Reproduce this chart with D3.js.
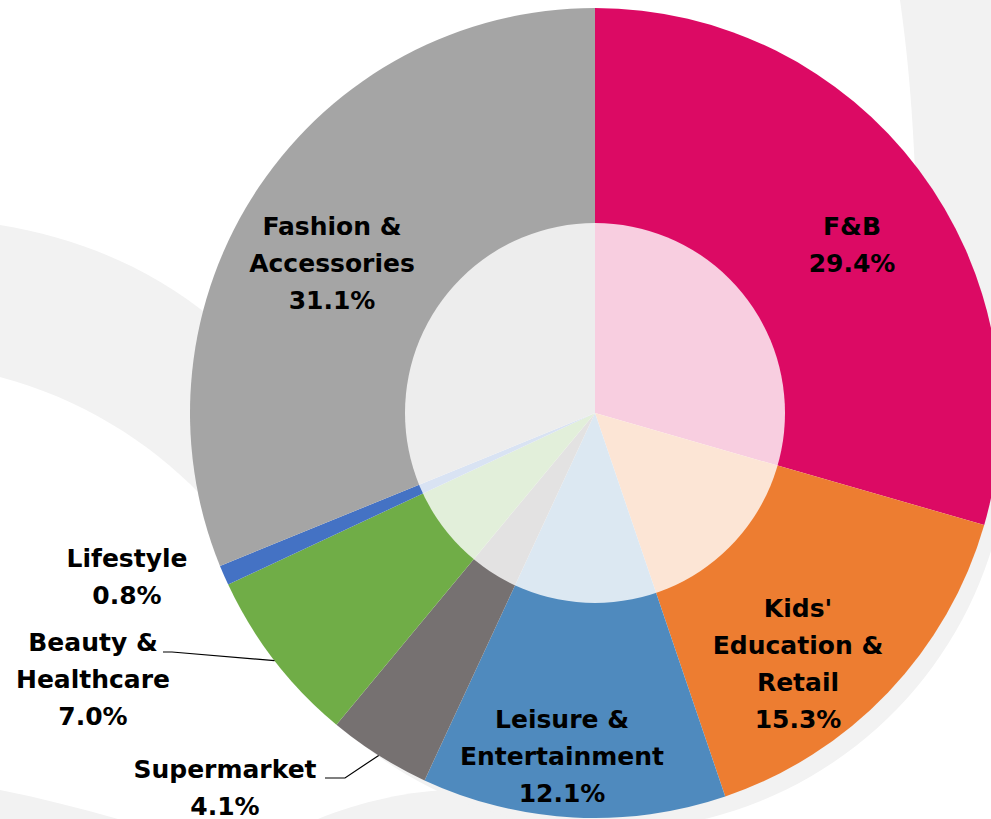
<!DOCTYPE html>
<html>
<head>
<meta charset="utf-8">
<script src="https://cdn.jsdelivr.net/npm/d3@7"></script>
<style>
  html, body { margin: 0; padding: 0; background: #ffffff; }
  svg { display: block; }
  text { font-family: "DejaVu Sans", sans-serif; font-weight: bold; }
</style>
</head>
<body>
<svg id="chart" width="991" height="819"></svg>
<script>
// ---- data ----
const categories = ["F&B", "Kids' Education & Retail", "Leisure & Entertainment", "Supermarket", "Beauty & Healthcare", "Lifestyle", "Fashion & Accessories"];
const shares = [29.4, 15.3, 12.1, 4.1, 7.0, 0.8, 31.1];
const labelLines = [
  ["F&B", "29.4%"],
  ["Kids'", "Education &", "Retail", "15.3%"],
  ["Leisure &", "Entertainment", "12.1%"],
  ["Supermarket", "4.1%"],
  ["Beauty &", "Healthcare", "7.0%"],
  ["Lifestyle", "0.8%"],
  ["Fashion &", "Accessories", "31.1%"]
];
const colors = ["#DC0A64", "#ED7D31", "#4F8ABE", "#767171", "#70AD47", "#4472C4", "#A5A5A5"];

// ---- layout ----
const W = 991, H = 819;
const cx = 595, cy = 413, R = 405, rInner = 190;
const lineH = 37;
// label anchors: centre x and first baseline y
const labelLayout = [
  { x: 852, y: 235 },
  { x: 798, y: 617 },
  { x: 562, y: 728 },
  { x: 225, y: 778, leader: [[325, 778], [345, 778]] },
  { x: 93,  y: 651, leader: [[163, 652], [172, 652]] },
  { x: 127, y: 567 },
  { x: 332, y: 235 }
];

const svg = d3.select("#chart");

// background watermark swooshes (decorative)
const bg = svg.append("g").attr("fill", "#F2F2F2");
bg.append("path").attr("d", "M900,0 C907,50 912,100 915,170 L991,460 L991,0 Z");
bg.append("path").attr("d", "M0,225 C80,238 150,268 212,318 L200,494 C150,442 80,398 0,377 Z");
bg.append("path").attr("d", "M0,790 C40,798 80,808 118,819 L0,819 Z");
bg.append("path").attr("d", "M318,819 C360,802 410,790 455,790 L640,819 Z");
// crescent hugging the lower-right edge of the pie
{
  const a0 = 65 * Math.PI / 180, a1 = 215 * Math.PI / 180, n = 80;
  const outer = d3.range(n + 1).map(k => {
    const a = a0 + (a1 - a0) * k / n;
    const w = 18 * Math.sin(Math.PI * k / n);
    return [a, R + w];
  });
  const inner = d3.range(n + 1).map(k => [a1 - (a1 - a0) * k / n, R - 2]);
  const pts = outer.concat(inner).map(([a, r]) => [cx + r * Math.sin(a), cy - r * Math.cos(a)]);
  bg.append("path").attr("d", d3.line()(pts) + "Z");
}

const g = svg.append("g").attr("transform", `translate(${cx},${cy})`);

const pie = d3.pie().sort(null).value(d => d);
const arcs = pie(shares);
const arc = d3.arc().innerRadius(0).outerRadius(R);
const edgeArc = d3.arc().innerRadius(R).outerRadius(R);

g.selectAll("path.slice")
  .data(arcs)
  .join("path")
  .attr("class", "slice")
  .attr("d", arc)
  .attr("fill", (d, i) => colors[i]);

// inner translucent disc
g.append("circle").attr("r", rInner).attr("fill", "#ffffff").attr("fill-opacity", 0.8);

// leader lines
arcs.forEach((d, i) => {
  const L = labelLayout[i];
  if (!L.leader) return;
  const [ex, ey] = edgeArc.centroid(d);
  const pts = L.leader.concat([[ex + cx, ey + cy]]);
  svg.append("path")
    .attr("d", d3.line()(pts))
    .attr("fill", "none")
    .attr("stroke", "#000")
    .attr("stroke-width", 1.2);
});

// labels
labelLines.forEach((lines, i) => {
  const L = labelLayout[i];
  const t = svg.append("text")
    .attr("text-anchor", "middle")
    .attr("font-size", 25)
    .attr("fill", "#000");
  lines.forEach((s, j) => {
    t.append("tspan").attr("x", L.x).attr("y", L.y + j * lineH).text(s);
  });
});
</script>
</body>
</html>
